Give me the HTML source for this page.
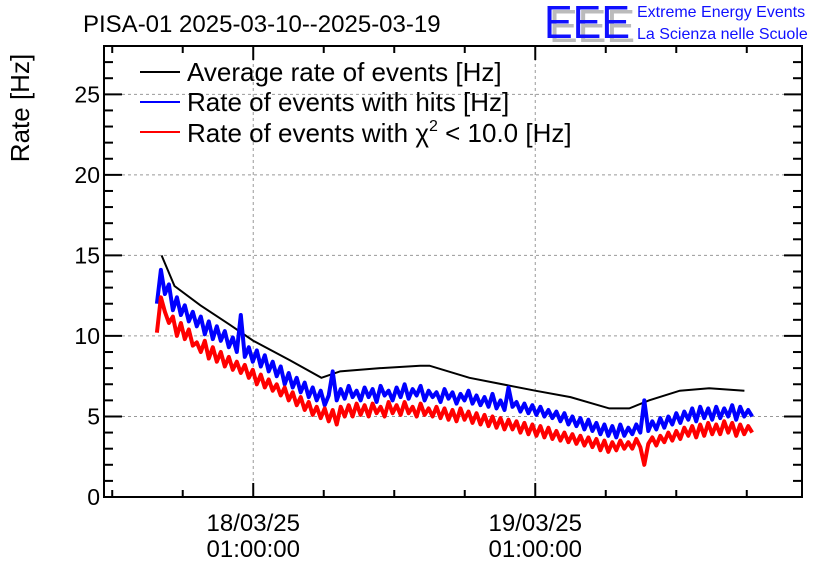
<!DOCTYPE html>
<html><head><meta charset="utf-8"><style>
body{margin:0;background:#fff}
svg text{font-family:"Liberation Sans",sans-serif}
</style></head><body>
<svg id="chart" width="836" height="572" xmlns="http://www.w3.org/2000/svg">
<rect width="836" height="572" fill="#fff"/>
<text x="83" y="32" font-size="24">PISA-01 2025-03-10--2025-03-19</text>
<g>
<text x="549" y="42" font-size="46" fill="#bbb" textLength="86" lengthAdjust="spacingAndGlyphs">EEE</text>
<text x="544" y="38" font-size="46" fill="#1010ff" textLength="86" lengthAdjust="spacingAndGlyphs">EEE</text>
<text x="637" y="17" font-size="16" fill="#1010ff">Extreme Energy Events</text>
<text x="637" y="39" font-size="16" fill="#1010ff">La Scienza nelle Scuole</text>
</g>
<text transform="translate(29,108) rotate(-90)" font-size="26" text-anchor="middle">Rate [Hz]</text>
<g id="grid"></g><g id="series"></g><g id="axes"></g>
<g>
<g><line x1="140" y1="72" x2="180" y2="72" stroke="#000" stroke-width="2"/><text x="187" y="81" font-size="26">Average rate of events [Hz]</text></g>
<g><line x1="140" y1="102" x2="180" y2="102" stroke="#00f" stroke-width="2"/><text x="187" y="111" font-size="26">Rate of events with hits [Hz]</text></g>
<g><line x1="140" y1="132" x2="180" y2="132" stroke="#f00" stroke-width="2"/><text x="187" y="142" font-size="26">Rate of events with χ<tspan font-size="16" dy="-11">2</tspan><tspan dy="11"> &lt; 10.0 [Hz]</tspan></text></g>
</g>
</svg>
<script>
// hours relative to 18/03/25 01:00:00
const avgHours=[-7.8,-6.7,-4.5,-2.0,0,3.1,5.8,7.4,10.8,14.2,15.0,18.4,24,27,30.3,32,33.7,36.3,38.8,41.8];
const avgValues=[15.0,13.1,11.9,10.7,9.7,8.5,7.4,7.8,8.0,8.15,8.15,7.4,6.6,6.2,5.5,5.5,6.0,6.6,6.75,6.6];
const seriesStartHour=-8.2;
const seriesStepHours=0.34;
const hitsValues=[12.0,14.1,12.6,13.2,11.6,12.4,11.3,11.9,10.9,11.5,
10.6,11.2,10.1,10.9,9.8,10.6,9.7,10.3,9.3,9.9,
9.0,11.3,8.7,9.3,8.4,9.1,8.1,8.8,7.8,8.4,
7.5,8.1,7.0,7.7,6.8,7.4,6.5,7.1,6.2,6.8,
6.0,6.6,5.7,6.3,7.8,6.0,6.7,6.1,6.9,6.2,
6.6,6.0,6.8,6.2,6.7,5.9,6.9,6.3,6.6,6.0,
6.8,6.2,7.0,6.1,6.7,6.3,6.9,6.0,6.6,6.2,
6.5,5.9,6.7,6.1,6.5,5.8,6.4,6.0,6.6,5.8,
6.3,5.7,6.2,5.6,6.4,5.5,6.0,5.4,6.8,5.6,
5.9,5.3,5.8,5.2,5.7,5.1,5.6,5.0,5.4,4.9,
5.3,4.7,5.2,4.5,5.0,4.4,4.9,4.2,4.8,4.1,
4.6,3.9,4.5,3.8,4.4,3.7,4.5,3.8,4.3,3.9,
4.5,4.0,6.0,4.1,4.7,4.2,4.9,4.3,5.0,4.5,
5.2,4.6,5.3,4.8,5.5,4.7,5.6,4.9,5.5,4.8,
5.6,4.9,5.5,5.0,5.7,4.8,5.6,5.0,5.4,5.0];
const chi2Values=[10.2,12.4,11.5,10.8,11.2,10.0,10.8,9.8,10.4,9.4,
9.6,9.0,9.7,8.6,9.3,8.4,9.0,8.1,8.7,7.9,
8.4,7.7,8.2,7.4,7.9,7.0,7.6,6.8,7.3,6.6,
7.0,6.3,6.8,6.0,6.5,5.7,6.2,5.4,5.9,5.1,
5.6,4.9,5.5,4.7,5.4,4.5,5.6,5.0,5.7,5.0,
5.8,5.1,5.7,5.0,5.8,5.2,5.6,5.0,5.9,5.2,
5.7,5.1,5.9,5.2,5.6,5.0,5.8,5.1,5.5,5.0,
5.6,4.9,5.5,4.8,5.4,4.7,5.5,4.8,5.3,4.6,
5.2,4.5,5.1,4.4,5.0,4.3,4.9,4.2,4.8,4.2,
4.7,4.0,4.6,3.9,4.5,3.8,4.4,3.7,4.3,3.6,
4.1,3.5,4.0,3.4,3.9,3.3,3.8,3.2,3.7,3.1,
3.6,2.9,3.5,2.8,3.4,2.9,3.5,3.0,3.4,3.0,
3.6,3.1,2.0,3.3,3.7,3.2,3.8,3.4,4.0,3.5,
4.1,3.6,4.3,3.8,4.4,3.7,4.5,3.8,4.6,3.9,
4.5,3.9,4.7,4.0,4.6,3.8,4.5,3.9,4.4,4.0];
const yTicks=[0,5,10,15,20,25];
const xTickHours=[0,24];
const xTickDates=["18/03/25","19/03/25"];
const xTickTimes=["01:00:00","01:00:00"];

const L=104,R=802,T=46,B=497,yMax=28,hMin=-12.7,hMax=46.7;
const X=h=>L+(h-hMin)/(hMax-hMin)*(R-L);
const Y=v=>B-v/yMax*(B-T);
const NS="http://www.w3.org/2000/svg";
function mk(tag,attrs,parent){const e=document.createElementNS(NS,tag);for(const k in attrs)e.setAttribute(k,attrs[k]);document.getElementById(parent).appendChild(e);return e;}

for(const v of yTicks){if(v===0)continue;
 const g=mk('line',{x1:L,x2:R,y1:Y(v),y2:Y(v),stroke:'#999','stroke-dasharray':'3,3'},'grid');
 
 }
for(const h of xTickHours){
 const g=mk('line',{x1:X(h),x2:X(h),y1:T,y2:B,stroke:'#999','stroke-dasharray':'3,3'},'grid');
 
 }

function noisy(vals,color,name){
 const pts=vals.map((v,i)=>X(seriesStartHour+i*seriesStepHours).toFixed(1)+','+Y(v).toFixed(1)).join(' ');
 const p=mk('polyline',{points:pts,fill:'none',stroke:color,'stroke-width':4,'stroke-linejoin':'round'},'series');
 
 }
const avg=mk('polyline',{points:avgHours.map((h,i)=>X(h)+','+Y(avgValues[i])).join(' '),fill:'none',stroke:'#000','stroke-width':2},'series');


noisy(hitsValues,'#00f','hits-rate-line');
noisy(chi2Values,'#f00','chi2-rate-line');

const fr=mk('rect',{x:L,y:T,width:R-L,height:B-T,fill:'none',stroke:'#000','stroke-width':2},'axes');


for(let v=0;v<=yMax;v++){const len=v%5===0?18:9;
 mk('line',{x1:L,x2:L+len,y1:Y(v),y2:Y(v),stroke:'#000','stroke-width':2},'axes');
 mk('line',{x1:R,x2:R-len,y1:Y(v),y2:Y(v),stroke:'#000','stroke-width':2},'axes');}
for(const v of yTicks){
 const t=mk('text',{x:L-4,y:Y(v)+8,'font-size':23,'text-anchor':'end'},'axes');t.textContent=v;
 
 }
for(let h=-24;h<=hMax;h+=6){if(h<hMin)continue;const len=h%24===0?14:7;
 mk('line',{x1:X(h),x2:X(h),y1:B,y2:B-len,stroke:'#000','stroke-width':2},'axes');
 mk('line',{x1:X(h),x2:X(h),y1:T,y2:T+len,stroke:'#000','stroke-width':2},'axes');}
xTickHours.forEach((h,i)=>{
 const a=mk('text',{x:X(h),y:531,'font-size':24,'text-anchor':'middle'},'axes');a.textContent=xTickDates[i];
 
 
 const b=mk('text',{x:X(h),y:557,'font-size':24,'text-anchor':'middle'},'axes');b.textContent=xTickTimes[i];
 
 });
</script>
</body></html>
